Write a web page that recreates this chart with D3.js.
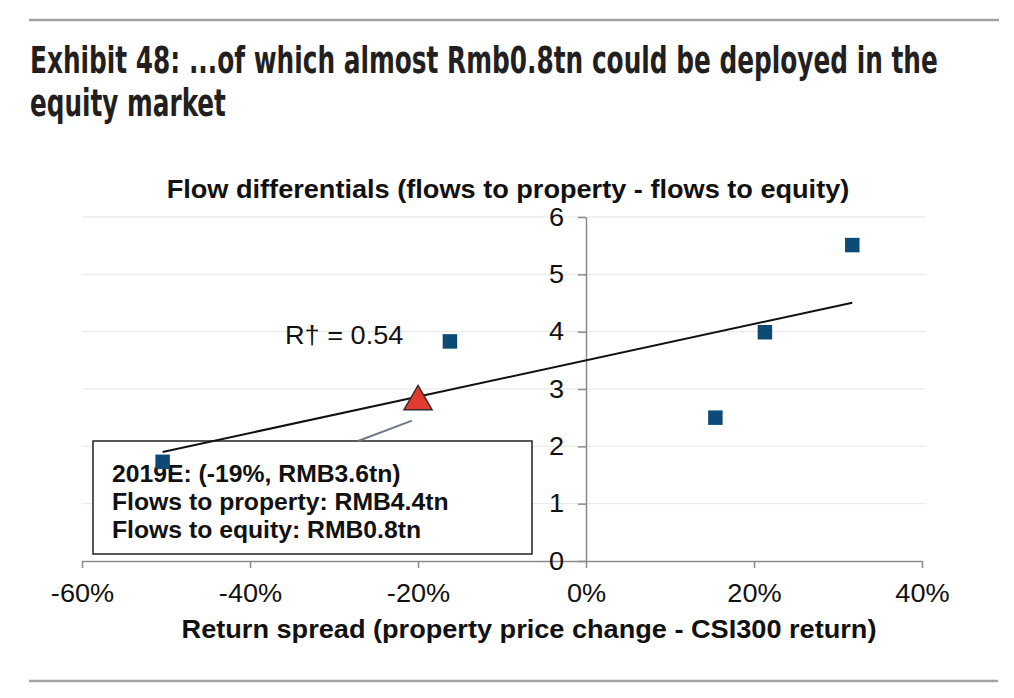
<!DOCTYPE html>
<html><head><meta charset="utf-8">
<script src="https://cdn.jsdelivr.net/npm/d3@7"></script>
<style>body{margin:0;background:#fff} svg{display:block}</style>
</head><body><svg id="c" width="1014" height="698"></svg>
<script>
const titleLines = ["Exhibit 48: ...of which almost Rmb0.8tn could be deployed in the", "equity market"];
const chartTitle = "Flow differentials (flows to property - flows to equity)";
const xAxisTitle = "Return spread (property price change - CSI300 return)";
const xTicks = [-60, -40, -20, 0, 20, 40];
const yTicks = [0, 1, 2, 3, 4, 5, 6];
const spread = [-50.4, -16.2, 15.4, 21.3, 31.7];
const flowDiff = [1.73, 3.83, 2.5, 3.99, 5.51];
const estimateX = [-20];
const estimateY = [2.78];
const r2Label = "R\u2020 = 0.54";
const noteLines = ["2019E: (-19%, RMB3.6tn)", "Flows to property: RMB4.4tn", "Flows to equity: RMB0.8tn"];

const svg = d3.select("#c");
svg.append("rect").attr("width", 1014).attr("height", 698).attr("fill", "#fff");

// horizontally widen a text selection to match the reference's wider glyphs
function widen(sel, k) {
  sel.each(function () {
    const w = this.getComputedTextLength();
    d3.select(this).attr("textLength", w * k).attr("lengthAdjust", "spacingAndGlyphs");
  });
}

// rules
svg.append("line").attr("x1", 29).attr("x2", 999).attr("y1", 20).attr("y2", 20)
  .attr("stroke", "#a3a3a3").attr("stroke-width", 2.5);
svg.append("line").attr("x1", 29).attr("x2", 998).attr("y1", 681).attr("y2", 681)
  .attr("stroke", "#a3a3a3").attr("stroke-width", 2.5);

// title (condensed: scaled horizontally to the reference's width)
const tFont = "'DejaVu Sans Condensed', 'Liberation Sans Narrow', sans-serif";
const titleWidths = [908, 196];
const titleBase = [73, 116];
titleLines.forEach((line, i) => {
  const t = svg.append("text").attr("x", 0).attr("y", 0).text(line)
    .attr("font-family", tFont).attr("font-weight", "bold").attr("font-size", 37)
    .attr("fill", "#231f20");
  const w = t.node().getComputedTextLength();
  t.attr("transform", `translate(30,${titleBase[i]}) scale(${titleWidths[i] / w},1)`);
});

const font = "'Liberation Sans', Arial, sans-serif";
const K = 1.085;
const x = d3.scaleLinear().domain([-60, 40]).range([82, 922]);
const y = d3.scaleLinear().domain([0, 6]).range([561, 217]);

// chart title
svg.append("text").attr("x", 508).attr("y", 198).attr("text-anchor", "middle")
  .attr("font-family", font).attr("font-weight", "bold").attr("font-size", 25)
  .attr("fill", "#111").text(chartTitle).call(widen, K);

// gridlines
svg.append("g").selectAll("line").data(yTicks.filter(d => d > 0)).join("line")
  .attr("x1", 82).attr("x2", 926).attr("y1", d => y(d)).attr("y2", d => y(d))
  .attr("stroke", "#e6e6e6").attr("stroke-width", 1);

// axes
const xAxis = svg.append("g").attr("transform", `translate(0,${y(0)})`)
  .call(d3.axisBottom(x).tickValues(xTicks).tickFormat(d => d + "%").tickSize(7).tickSizeOuter(0).tickPadding(16));
const yAxis = svg.append("g").attr("transform", `translate(${x(0)},0)`)
  .call(d3.axisLeft(y).tickValues(yTicks).tickFormat(d3.format("d")).tickSize(8).tickSizeOuter(0).tickPadding(14));
[xAxis, yAxis].forEach(g => {
  g.selectAll("path,line").attr("stroke", "#8a8a8a").attr("stroke-width", 1.5);
  g.selectAll("text").attr("font-family", font).attr("font-size", 25).attr("fill", "#111").call(widen, K);
});

// x axis title
svg.append("text").attr("x", 529).attr("y", 638).attr("text-anchor", "middle")
  .attr("font-family", font).attr("font-weight", "bold").attr("font-size", 25)
  .attr("fill", "#111").text(xAxisTitle).call(widen, K);

// annotation box
svg.append("rect").attr("x", 93).attr("y", 441).attr("width", 439).attr("height", 113)
  .attr("fill", "#fff").attr("stroke", "#222").attr("stroke-width", 1.5);
svg.append("g").selectAll("text").data(noteLines).join("text")
  .attr("x", 112).attr("y", (d, i) => 482 + i * 28)
  .attr("font-family", font).attr("font-weight", "bold").attr("font-size", 23)
  .attr("fill", "#111").text(d => d).call(widen, 1.075);

// connector from box to estimate
const ex = x(estimateX[0]), ey = y(estimateY[0]);
svg.append("line").attr("x1", ex - 60).attr("y1", 441).attr("x2", ex - 6).attr("y2", ey + 19)
  .attr("stroke", "#6e7a88").attr("stroke-width", 2);

// regression trend line
const mx = d3.mean(spread), my = d3.mean(flowDiff);
const sxy = d3.sum(spread, (d, i) => (d - mx) * (flowDiff[i] - my));
const sxx = d3.sum(spread, d => (d - mx) ** 2);
const slope = sxy / sxx, icpt = my - slope * mx;
const [x0, x1] = d3.extent(spread);
svg.append("line").attr("x1", x(x0)).attr("y1", y(icpt + slope * x0))
  .attr("x2", x(x1)).attr("y2", y(icpt + slope * x1))
  .attr("stroke", "#111").attr("stroke-width", 2);

// points
svg.append("g").selectAll("path").data(spread).join("path")
  .attr("transform", (d, i) => `translate(${x(d)},${y(flowDiff[i])})`)
  .attr("d", d3.symbol(d3.symbolSquare, 210))
  .attr("fill", "#0d4a76");

// 2019E estimate
svg.append("g").selectAll("path").data(estimateX).join("path")
  .attr("transform", (d, i) => `translate(${x(d)},${y(estimateY[i])})`)
  .attr("d", d3.symbol(d3.symbolTriangle, 340))
  .attr("fill", "#e23b2f").attr("stroke", "#3a2a2a").attr("stroke-width", 1.5);

// R2 label
svg.append("text").attr("x", 285).attr("y", 344)
  .attr("font-family", font).attr("font-size", 25).attr("fill", "#111").text(r2Label).call(widen, K);
</script>
</body></html>
